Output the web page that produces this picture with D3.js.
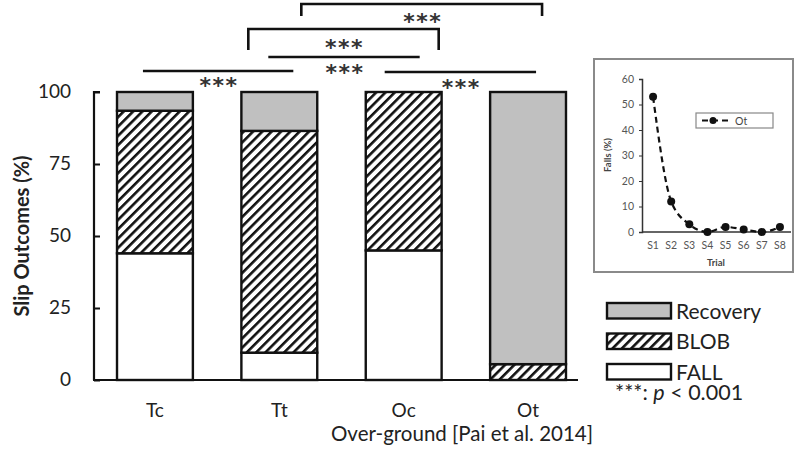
<!DOCTYPE html>
<html>
<head>
<meta charset="utf-8">
<script src="https://cdn.jsdelivr.net/npm/d3@7"></script>
<style>
  body { margin: 0; background: #fff; }
  svg { display: block; font-family: Lato, "Open Sans", sans-serif; }
</style>
</head>
<body>
<svg id="chart" width="800" height="453"></svg>
<script>
// main chart data (percent of slips)
var categories = ["Tc", "Tt", "Oc", "Ot"];
var fallValues = [44, 9.5, 45, 0];
var blobValues = [49.5, 77, 55, 5.5];
var recoveryValues = [6.5, 13.5, 0, 94.5];
var yTicks = [0, 25, 50, 75, 100];

// significance comparisons
var comparisons = [["Tt", "Ot"], ["Tt", "Oc"], ["Tt", "Oc"], ["Tc", "Tt"], ["Oc", "Ot"]];
var sigLabels = ["***", "***", "***", "***", "***"];

// inset: falls per trial for Ot
var trials = ["S1", "S2", "S3", "S4", "S5", "S6", "S7", "S8"];
var fallsOt = [53, 12, 3, 0, 2, 1, 0, 2];
var insetTicks = [0, 10, 20, 30, 40, 50, 60];

var svg = d3.select("#chart");

// hatch pattern for BLOB
var defs = svg.append("defs");
defs.append("pattern")
    .attr("id", "hatch")
    .attr("patternUnits", "userSpaceOnUse")
    .attr("width", 6.6)
    .attr("height", 6.6)
    .attr("patternTransform", "rotate(45)")
  .call(function (p) {
    p.append("rect").attr("width", 6.6).attr("height", 6.6).attr("fill", "#fff");
    p.append("line").attr("x1", 1.3).attr("x2", 1.3).attr("y1", 0).attr("y2", 6.6)
      .attr("stroke", "#111").attr("stroke-width", 2.6);
  });

var keys = ["fall", "blob", "recovery"];
var fills = { fall: "#fff", blob: "url(#hatch)", recovery: "#c0c0c0" };

var rows = categories.map(function (c, i) {
  return { cat: c, fall: fallValues[i], blob: blobValues[i], recovery: recoveryValues[i] };
});
var stacked = d3.stack().keys(keys)(rows);

var x = d3.scaleBand()
    .domain(categories)
    .range([94, 589])
    .paddingInner(0.39)
    .paddingOuter(0.185);
var y = d3.scaleLinear().domain([0, 100]).range([380, 92]);

// bars
var series = svg.append("g").selectAll("g")
    .data(stacked)
    .enter().append("g")
    .attr("fill", function (d) { return fills[d.key]; });
series.selectAll("rect")
    .data(function (d) { return d; })
    .enter().append("rect")
    .attr("x", function (d) { return x(d.data.cat); })
    .attr("y", function (d) { return y(d[1]); })
    .attr("width", x.bandwidth())
    .attr("height", function (d) { return y(d[0]) - y(d[1]); })
    .attr("stroke", "#111")
    .attr("stroke-width", 2.4);

// y axis (ticks point inward)
var yAxis = svg.append("g")
    .attr("transform", "translate(94,0)")
    .call(d3.axisRight(y).tickValues(yTicks).tickSize(6).tickFormat(""));
yAxis.select(".domain").attr("stroke", "#111").attr("stroke-width", 2.2)
    .attr("d", "M6," + y(100) + "H0V" + y(0));
yAxis.selectAll(".tick line").attr("stroke", "#111").attr("stroke-width", 2);

svg.append("g").selectAll("text")
    .data(yTicks)
    .enter().append("text")
    .attr("x", 71)
    .attr("y", function (d) { return y(d) + 6; })
    .attr("text-anchor", "end")
    .attr("font-size", 19)
    .attr("fill", "#222")
    .text(function (d) { return d; });

svg.append("text")
    .attr("transform", "translate(29,236) rotate(-90)")
    .attr("text-anchor", "middle")
    .attr("font-size", 20)
    .attr("font-weight", "bold")
    .attr("fill", "#222")
    .text("Slip Outcomes (%)");

// x baseline and category labels
svg.append("line")
    .attr("x1", 93).attr("x2", 578)
    .attr("y1", y(0)).attr("y2", y(0))
    .attr("stroke", "#111").attr("stroke-width", 2.2);

svg.append("g").selectAll("text")
    .data(categories)
    .enter().append("text")
    .attr("x", function (d) { return x(d) + x.bandwidth() / 2; })
    .attr("y", 417)
    .attr("text-anchor", "middle")
    .attr("font-size", 19)
    .attr("fill", "#222")
    .text(function (d) { return d; });

svg.append("text")
    .attr("x", 462).attr("y", 441)
    .attr("text-anchor", "middle")
    .attr("font-size", 20.5)
    .attr("fill", "#222")
    .text("Over-ground [Pai et al. 2014]");

// significance brackets: offsets from bar centres, bar level, leg length
var bracketLayout = [
  { dx1: 22, dx2: 14, top: 4, leg: 12, starY: 17 },
  { dx1: -31, dx2: 35, top: 29, leg: 21, starY: 43 },
  { dx1: -11, dx2: 16, top: 57, leg: 0, starY: 68 },
  { dx1: -12, dx2: 14, top: 71, leg: 0, starY: 81 },
  { dx1: -19, dx2: 8, top: 72, leg: 0, starY: 83 }
];
var cx = function (c) { return x(c) + x.bandwidth() / 2; };
var sig = svg.append("g");
comparisons.forEach(function (pair, i) {
  var L = bracketLayout[i];
  var x1 = cx(pair[0]) + L.dx1, x2 = cx(pair[1]) + L.dx2;
  var path = L.leg > 0
    ? "M" + x1 + "," + (L.top + L.leg) + "V" + L.top + "H" + x2 + "V" + (L.top + L.leg)
    : "M" + x1 + "," + L.top + "H" + x2;
  sig.append("path").attr("d", path)
      .attr("fill", "none").attr("stroke", "#111").attr("stroke-width", 2.6);
  sig.append("text")
      .attr("x", (x1 + x2) / 2 + 1)
      .attr("y", L.starY + 12)
      .attr("text-anchor", "middle")
      .attr("font-family", "DejaVu Sans, sans-serif")
      .attr("font-weight", "bold")
      .attr("font-size", 22)
      .attr("letter-spacing", 1.5)
      .attr("fill", "#333")
      .text(sigLabels[i]);
});

// legend
var legendKeys = ["recovery", "blob", "fall"];
var legendNames = { recovery: "Recovery", blob: "BLOB", fall: "FALL" };
var legend = svg.append("g").selectAll("g")
    .data(legendKeys)
    .enter().append("g")
    .attr("transform", function (d, i) { return "translate(607," + (303 + i * 30.5) + ")"; });
legend.append("rect")
    .attr("width", 64).attr("height", 15.5)
    .attr("fill", function (d) { return fills[d]; })
    .attr("stroke", "#111").attr("stroke-width", 2.4);
legend.append("text")
    .attr("x", 69).attr("y", 15.5)
    .attr("font-size", 21)
    .attr("fill", "#222")
    .text(function (d) { return legendNames[d]; });

var pText = svg.append("text")
    .attr("x", 615).attr("y", 400)
    .attr("font-size", 21.5)
    .attr("fill", "#222");
pText.append("tspan").text("***: ");
pText.append("tspan").attr("font-style", "italic").text("p");
pText.append("tspan").text(" < 0.001");

// inset chart
var inset = svg.append("g");
inset.append("rect")
    .attr("x", 594).attr("y", 59)
    .attr("width", 199).attr("height", 213)
    .attr("fill", "#fff")
    .attr("stroke", "#8a8a8a").attr("stroke-width", 2);

var ix = d3.scaleBand().domain(trials).range([644, 789]);
var iy = d3.scaleLinear().domain([0, 60]).range([232, 79]);

var iyAxis = inset.append("g")
    .attr("transform", "translate(642,0)")
    .call(d3.axisLeft(iy).tickValues(insetTicks).tickSize(3).tickPadding(5));
iyAxis.select(".domain").attr("stroke", "#333").attr("stroke-width", 1.5);
iyAxis.selectAll(".tick line").attr("stroke", "#333");
iyAxis.selectAll("text").attr("font-size", 10.5).attr("fill", "#555")
    .attr("font-family", "Lato, sans-serif");

var ixAxis = inset.append("g")
    .attr("transform", "translate(0,232)")
    .call(d3.axisBottom(ix).tickSize(0).tickPadding(10));
ixAxis.select(".domain").attr("stroke", "#333").attr("stroke-width", 1.5)
    .attr("d", "M642,0H791");
ixAxis.selectAll("text").attr("font-size", 10.5).attr("fill", "#555")
    .attr("font-family", "Lato, sans-serif");

inset.append("text")
    .attr("transform", "translate(611,155) rotate(-90)")
    .attr("text-anchor", "middle")
    .attr("font-size", 9.5)
    .attr("font-weight", "bold")
    .attr("fill", "#444")
    .text("Falls (%)");
inset.append("text")
    .attr("x", 716).attr("y", 266)
    .attr("text-anchor", "middle")
    .attr("font-size", 9.5)
    .attr("font-weight", "bold")
    .attr("fill", "#444")
    .text("Trial");

var line = d3.line()
    .x(function (d, i) { return ix(trials[i]) + ix.bandwidth() / 2; })
    .y(function (d) { return iy(d); })
    .curve(d3.curveMonotoneX);
inset.append("path")
    .datum(fallsOt)
    .attr("d", line)
    .attr("fill", "none")
    .attr("stroke", "#111")
    .attr("stroke-width", 2.2)
    .attr("stroke-dasharray", "6,4");
inset.append("g").selectAll("circle")
    .data(fallsOt)
    .enter().append("circle")
    .attr("cx", function (d, i) { return ix(trials[i]) + ix.bandwidth() / 2; })
    .attr("cy", function (d) { return iy(d); })
    .attr("r", 4)
    .attr("fill", "#111");

// inset legend
var il = inset.append("g").attr("transform", "translate(696,113)");
il.append("rect").attr("width", 77).attr("height", 15)
    .attr("fill", "#fff").attr("stroke", "#888").attr("stroke-width", 1.2);
il.append("line").attr("x1", 6).attr("x2", 34).attr("y1", 7.5).attr("y2", 7.5)
    .attr("stroke", "#111").attr("stroke-width", 2).attr("stroke-dasharray", "6,4");
il.append("circle").attr("cx", 17).attr("cy", 7.5).attr("r", 3.5).attr("fill", "#111");
il.append("text").attr("x", 39).attr("y", 11.5)
    .attr("font-size", 10.5).attr("fill", "#444").text("Ot");
</script>
</body>
</html>
